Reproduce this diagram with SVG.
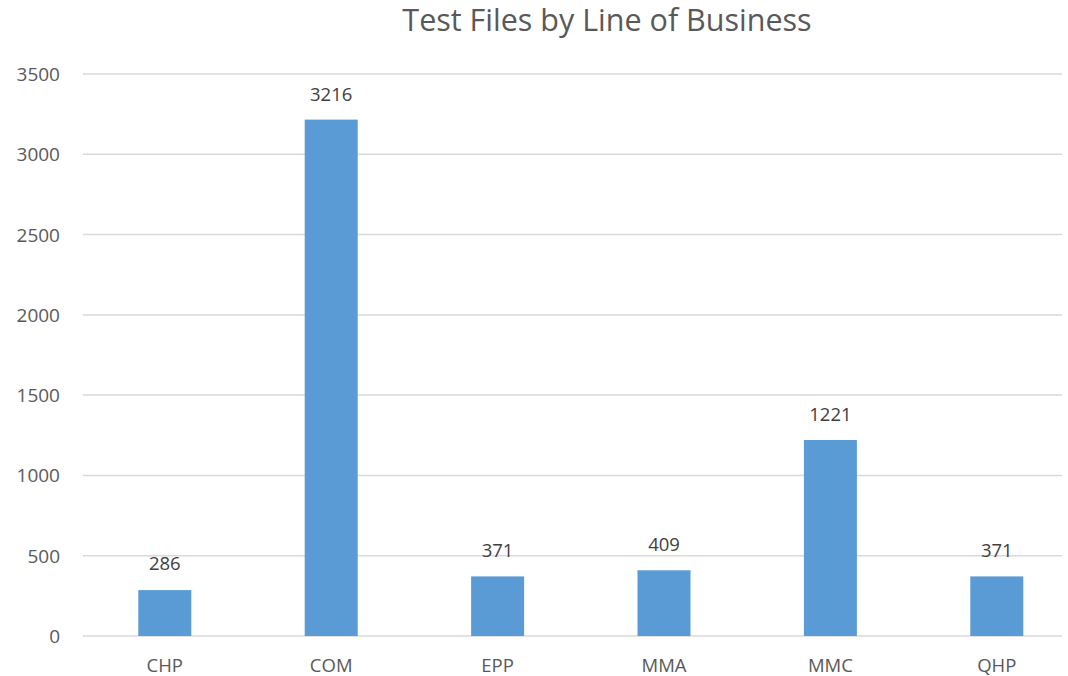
<svg xmlns="http://www.w3.org/2000/svg" width="1068" height="676" viewBox="0 0 1068 676">
<style>
.t{font-family:"Open Sans","Noto Sans",sans-serif;fill:#595959}
.ax{font-size:19px;text-anchor:end}
.cat{font-size:18.5px;text-anchor:middle}
.val{font-size:18.5px;text-anchor:middle;fill:#404040}
.g{stroke:#d9d9d9;stroke-width:1.5}
.bar{fill:#5b9bd5}
</style>
<rect width="1068" height="676" fill="#ffffff"/>
<text id="title" class="t" x="607" y="31" font-size="30.5" text-anchor="middle">Test Files by Line of Business</text>
<g id="grid">
<line class="g" x1="83" y1="74" x2="1062" y2="74"/>
<line class="g" x1="83" y1="154.3" x2="1062" y2="154.3"/>
<line class="g" x1="83" y1="234.6" x2="1062" y2="234.6"/>
<line class="g" x1="83" y1="314.9" x2="1062" y2="314.9"/>
<line class="g" x1="83" y1="395.1" x2="1062" y2="395.1"/>
<line class="g" x1="83" y1="475.4" x2="1062" y2="475.4"/>
<line class="g" x1="83" y1="555.7" x2="1062" y2="555.7"/>
<line class="g" x1="83" y1="636" x2="1062" y2="636"/>
</g>
<g id="yaxis" class="t ax">
<text x="60" y="81">3500</text>
<text x="60" y="161.3">3000</text>
<text x="60" y="241.6">2500</text>
<text x="60" y="321.9">2000</text>
<text x="60" y="402.1">1500</text>
<text x="60" y="482.4">1000</text>
<text x="60" y="562.7">500</text>
<text x="60" y="643">0</text>
</g>
<g id="bar-CHP"><rect class="bar" x="138.3" y="590.1" width="53" height="45.9"/><text class="t val" x="164.8" y="570">286</text><text class="t cat" x="164.8" y="672">CHP</text></g>
<g id="bar-COM"><rect class="bar" x="304.7" y="119.6" width="53" height="516.4"/><text class="t val" x="331.2" y="100.5">3216</text><text class="t cat" x="331.2" y="672">COM</text></g>
<g id="bar-EPP"><rect class="bar" x="471.1" y="576.4" width="53" height="59.6"/><text class="t val" x="497.6" y="556.5">371</text><text class="t cat" x="497.6" y="672">EPP</text></g>
<g id="bar-MMA"><rect class="bar" x="637.5" y="570.3" width="53" height="65.7"/><text class="t val" x="664" y="550.5">409</text><text class="t cat" x="664" y="672">MMA</text></g>
<g id="bar-MMC"><rect class="bar" x="803.9" y="440" width="53" height="196"/><text class="t val" x="830.4" y="420.5">1221</text><text class="t cat" x="830.4" y="672">MMC</text></g>
<g id="bar-QHP"><rect class="bar" x="970.3" y="576.4" width="53" height="59.6"/><text class="t val" x="996.8" y="556.5">371</text><text class="t cat" x="996.8" y="672">QHP</text></g>
<g id="connectors"/>
</svg>
